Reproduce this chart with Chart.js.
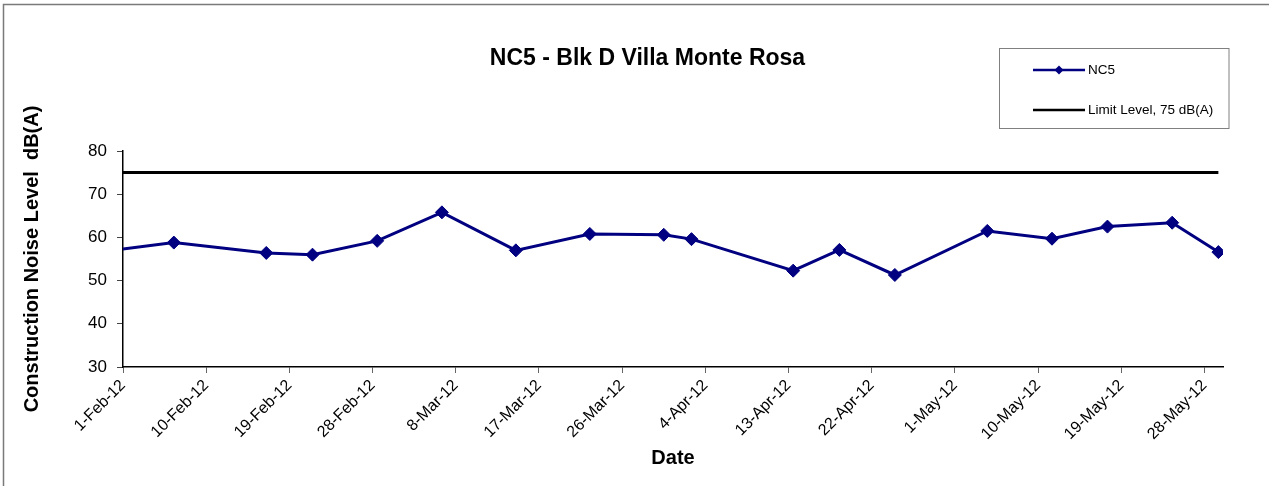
<!DOCTYPE html>
<html>
<head>
<meta charset="utf-8">
<script src="https://cdn.jsdelivr.net/npm/chart.js@4.4.1/dist/chart.umd.min.js"></script>
<style>
  html, body { margin: 0; padding: 0; background: #fff; }
  #wrap { width: 1269px; height: 486px; position: relative; }
</style>
</head>
<body>
<div id="wrap"><canvas id="c" width="1269" height="486"></canvas></div>
<script>
// ---- data ----
const chartTitle = 'NC5 - Blk D Villa Monte Rosa';
const seriesName = 'NC5';
const limitName = 'Limit Level, 75 dB(A)';
const yTitle = 'Construction Noise Level  dB(A)';
const xTitle = 'Date';

const dates = ['30-Jan-12','6-Feb-12','16-Feb-12','21-Feb-12','28-Feb-12','6-Mar-12','14-Mar-12',
  '22-Mar-12','30-Mar-12','2-Apr-12','13-Apr-12','18-Apr-12','24-Apr-12','4-May-12','11-May-12',
  '17-May-12','24-May-12','29-May-12'];
const values = [56.9, 58.8, 56.4, 56.0, 59.2, 65.8, 57.0, 60.8, 60.6, 59.6, 52.3, 57.1, 51.3,
  61.5, 59.7, 62.5, 63.4, 56.6];

const limitDates = ['30-Jan-12', '29-May-12'];
const limitValues = [75, 75];

const axisStart = '1-Feb-12';
const axisEnd = '30-May-12';
const tickStepDays = 9;
const yMin = 30, yMax = 80, yStep = 10;

// ---- helpers ----
const MONTHS = ['Jan','Feb','Mar','Apr','May','Jun','Jul','Aug','Sep','Oct','Nov','Dec'];
function parseDate(s) {
  const [d, m, y] = s.split('-');
  return Date.UTC(2000 + parseInt(y, 10), MONTHS.indexOf(m), parseInt(d, 10));
}
const DAY = 86400000;
const origin = parseDate(axisStart);
const dayIndex = s => (parseDate(s) - origin) / DAY;
// Excel date axis plots each point in the middle of its day
const toPoint = (s, v) => ({ x: dayIndex(s) + 0.5, y: v });
function formatDay(n) {
  const dt = new Date(origin + n * DAY);
  return dt.getUTCDate() + '-' + MONTHS[dt.getUTCMonth()] + '-' + String(dt.getUTCFullYear()).slice(2);
}

const FONT = '"Liberation Sans", Arial, sans-serif';

const decorPlugin = {
  id: 'decor',
  afterLayout(chart) {
    // title in the reference sits a little right of the plot centre
    chart.titleBlock.left += 36;
    chart.titleBlock.right += 36;
  },
  beforeDraw(chart) {
    const ctx = chart.ctx;
    ctx.save();
    ctx.fillStyle = '#fff';
    ctx.fillRect(0, 0, chart.width, chart.height);
    ctx.strokeStyle = '#7a7a7a';
    ctx.lineWidth = 1.5;
    ctx.beginPath();
    ctx.moveTo(3.5, chart.height);
    ctx.lineTo(3.5, 4.5);
    ctx.lineTo(chart.width, 4.5);
    ctx.stroke();
    ctx.restore();
  },
  afterDraw(chart) {
    const ctx = chart.ctx;
    ctx.save();
    // legend box
    ctx.strokeStyle = '#808080';
    ctx.lineWidth = 1;
    ctx.strokeRect(999.5, 48.5, 229.5, 80);
    const items = chart.data.datasets.map(ds => ({
      label: ds.label, color: ds.borderColor, marker: ds.pointRadius > 0
    }));
    const rows = [70, 110];
    items.forEach((it, i) => {
      const y = rows[i];
      ctx.strokeStyle = it.color;
      ctx.lineWidth = 2.5;
      ctx.beginPath();
      ctx.moveTo(1033, y);
      ctx.lineTo(1085, y);
      ctx.stroke();
      if (it.marker) {
        ctx.fillStyle = it.color;
        ctx.beginPath();
        ctx.moveTo(1059, y - 4.5);
        ctx.lineTo(1063.5, y);
        ctx.lineTo(1059, y + 4.5);
        ctx.lineTo(1054.5, y);
        ctx.closePath();
        ctx.fill();
      }
      ctx.fillStyle = '#000';
      ctx.font = '13.5px ' + FONT;
      ctx.textBaseline = 'middle';
      ctx.textAlign = 'left';
      ctx.fillText(it.label, 1088, y);
    });
    ctx.restore();
  }
};

new Chart(document.getElementById('c'), {
  type: 'line',
  data: {
    datasets: [
      {
        label: seriesName,
        data: dates.map((d, i) => toPoint(d, values[i])),
        borderColor: '#000080',
        backgroundColor: '#000080',
        borderWidth: 3,
        pointStyle: 'rectRot',
        pointRadius: 6.5,
        pointBorderWidth: 1,
        pointBackgroundColor: '#000080',
        pointBorderColor: '#000080',
        tension: 0,
        fill: false
      },
      {
        label: limitName,
        data: limitDates.map((d, i) => toPoint(d, limitValues[i])),
        borderColor: '#000000',
        backgroundColor: '#000000',
        borderWidth: 3,
        pointRadius: 0,
        tension: 0,
        fill: false
      }
    ]
  },
  options: {
    responsive: false,
    animation: false,
    events: [],
    layout: { padding: { left: 0, right: 46, top: 0, bottom: 0 } },
    plugins: {
      legend: { display: false },
      tooltip: { enabled: false },
      title: {
        display: true,
        text: chartTitle,
        color: '#000',
        font: { family: FONT, size: 23, weight: 'bold', lineHeight: 1.2 },
        padding: { top: 45, bottom: 78.4 }
      }
    },
    scales: {
      x: {
        type: 'linear',
        min: dayIndex(axisStart),
        max: dayIndex(axisEnd),
        afterFit(scale) { scale.height = 119; },
        border: { color: '#000', width: 1.5 },
        grid: { drawOnChartArea: false, drawTicks: true, tickLength: 6, color: '#666', lineWidth: 1 },
        ticks: {
          stepSize: tickStepDays,
          includeBounds: false,
          autoSkip: false,
          maxRotation: 45,
          minRotation: 45,
          padding: 3,
          color: '#000',
          font: { family: FONT, size: 16 },
          callback: v => formatDay(v)
        },
        title: {
          display: true,
          text: xTitle,
          color: '#000',
          font: { family: FONT, size: 20, weight: 'bold', lineHeight: 1.2 },
          padding: { top: 0, bottom: 16 }
        }
      },
      y: {
        min: yMin,
        max: yMax,
        afterFit(scale) { scale.width = 123; },
        border: { color: '#000', width: 1.5 },
        grid: { drawOnChartArea: false, drawTicks: true, tickLength: 6, color: '#444', lineWidth: 1 },
        ticks: {
          stepSize: yStep,
          padding: 10,
          color: '#000',
          font: { family: FONT, size: 17 }
        },
        title: {
          display: true,
          text: yTitle,
          color: '#000',
          font: { family: FONT, size: 20, weight: 'bold', lineHeight: 1.2 },
          padding: { top: 20, bottom: 0 }
        }
      }
    }
  },
  plugins: [decorPlugin]
});
</script>
</body>
</html>
